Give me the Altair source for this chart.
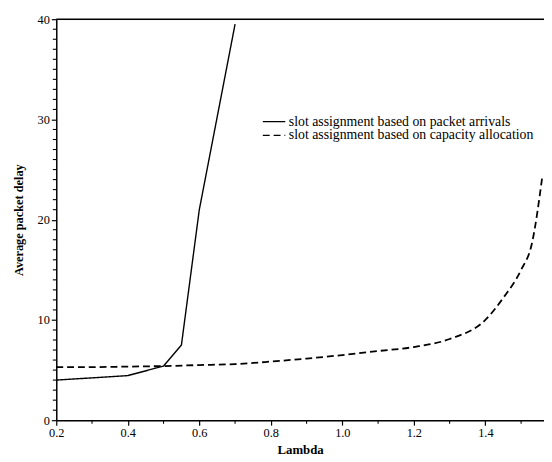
import altair as alt
import pandas as pd

# Series 1: slot assignment based on packet arrivals
arr_lambda = [0.2, 0.4, 0.5, 0.55, 0.6, 0.7]
arr_delay = [4.0, 4.45, 5.4, 7.5, 21.0, 39.5]

# Series 2: slot assignment based on capacity allocation
cap_lambda = [0.2, 0.3, 0.4, 0.5, 0.6, 0.7, 0.8, 0.9, 1.0, 1.1, 1.2, 1.3, 1.4, 1.45, 1.5, 1.53, 1.56]
cap_delay = [5.3, 5.3, 5.35, 5.4, 5.5, 5.6, 5.85, 6.15, 6.5, 6.9, 7.3, 8.1, 10.0, 12.2, 15.0, 17.6, 24.5]

series_names = ["slot assignment based on packet arrivals",
                "slot assignment based on capacity allocation"]

x_ticks = [0.2, 0.4, 0.6, 0.8, 1.0, 1.2, 1.4]
x_minor = [0.3, 0.5, 0.7, 0.9, 1.1, 1.3, 1.5]
y_ticks = [0, 10, 20, 30, 40]
y_minor = [v for v in range(0, 41) if v % 10 != 0]

df_arr = pd.DataFrame({"lambda": arr_lambda, "delay": arr_delay, "series": series_names[0]})
df_cap = pd.DataFrame({"lambda": cap_lambda, "delay": cap_delay, "series": series_names[1]})

FONT = "Liberation Serif"
W, H = 495, 407
xscale = alt.Scale(domain=[0.2, 1.564], nice=False, zero=False)
yscale = alt.Scale(domain=[0, 40], nice=False)

dash = alt.StrokeDash(
    "series:N",
    scale=alt.Scale(domain=series_names, range=[[1, 0], [7, 4]]),
    legend=alt.Legend(
        title=None, orient="none", legendX=214, legendY=97,
        symbolType="M-2,0H2", symbolSize=130, symbolStrokeWidth=1.3,
        symbolStrokeColor="black", symbolFillColor="transparent",
        labelFont=FONT, labelFontSize=14, labelColor="black", labelLimit=0,
        rowPadding=-3, labelOffset=8,
    ),
)

x_main = alt.X("lambda:Q", scale=xscale,
               axis=alt.Axis(values=x_ticks, format=".1f", title="Lambda", grid=False,
                             labelFont=FONT, labelFontSize=12.5, labelColor="black",
                             titleFont=FONT, titleFontSize=13, titleFontWeight="bold",
                             titleColor="black", titlePadding=4,
                             domainColor="black", domainWidth=1.5, tickColor="black",
                             tickSize=5, tickWidth=1.2, labelPadding=2, labelFlush=False))
y_main = alt.Y("delay:Q", scale=yscale,
               axis=alt.Axis(values=y_ticks, title="Average packet delay", grid=False,
                             labelFont=FONT, labelFontSize=12.5, labelColor="black",
                             titleFont=FONT, titleFontSize=12.5, titleFontWeight="bold",
                             titleColor="black", titlePadding=12,
                             domainColor="black", domainWidth=1.5, tickColor="black",
                             tickSize=5, tickWidth=1.2, labelPadding=2))

line_arr = alt.Chart(df_arr).mark_line(color="black", strokeWidth=1.4).encode(
    x=x_main, y=y_main, strokeDash=dash)
line_cap = alt.Chart(df_cap).mark_line(color="black", strokeWidth=1.8, interpolate="monotone").encode(
    x=alt.X("lambda:Q", scale=xscale, axis=None),
    y=alt.Y("delay:Q", scale=yscale, axis=None),
    strokeDash=dash)

top_rule = alt.Chart(pd.DataFrame({"v": [40]})).mark_rule(color="black", strokeWidth=1.5).encode(
    y=alt.Y("v:Q", scale=yscale, axis=None))

# minor ticks drawn just outside the plot edges
minor_x = alt.Chart(pd.DataFrame({"m": x_minor})).mark_rule(
    color="black", strokeWidth=1.1).encode(
    x=alt.X("m:Q", scale=xscale, axis=None), y=alt.value(H), y2=alt.value(H + 3.5))
minor_y = alt.Chart(pd.DataFrame({"m": y_minor})).mark_rule(
    color="black", strokeWidth=1.1).encode(
    y=alt.Y("m:Q", scale=yscale, axis=None), x=alt.value(-3.5), x2=alt.value(0))

chart = alt.layer(line_arr, line_cap, top_rule, minor_x, minor_y).resolve_axis(
    x="independent", y="independent"
).properties(
    width=W, height=H,
    autosize=alt.AutoSizeParams(type="none"),
    padding={"left": 49, "top": 8, "right": 0, "bottom": 36},
).configure_view(stroke=None).configure(background="white")

chart.save("out.html", embed_options={"renderer": "svg", "actions": False})
